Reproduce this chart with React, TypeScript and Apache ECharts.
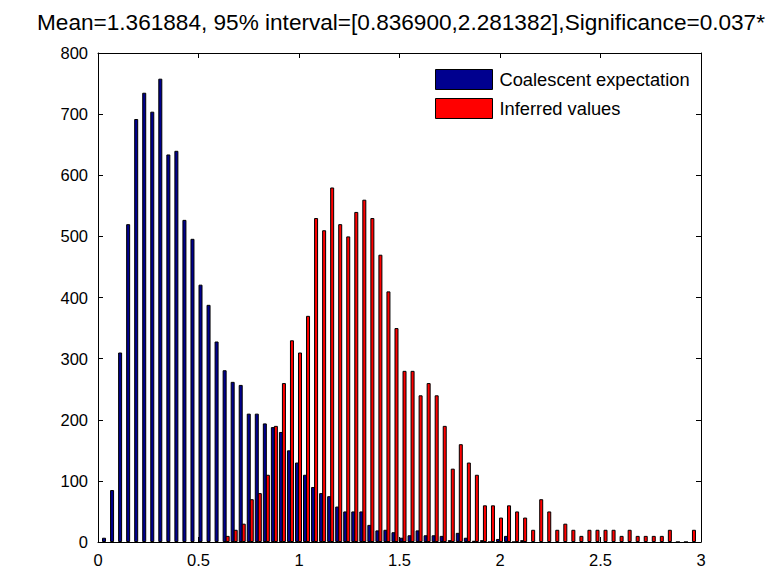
import React, { useEffect, useRef } from "react";
import * as echarts from "echarts";

const TITLE = "Mean=1.361884, 95% interval=[0.836900,2.281382],Significance=0.037*";
const SERIES_NAMES = ["Coalescent expectation", "Inferred values"];

const xTicks = [0, 0.5, 1, 1.5, 2, 2.5, 3];
const yTicks = [0, 100, 200, 300, 400, 500, 600, 700, 800];

// bin centres of the "Coalescent expectation" histogram
const blueCenters = [
  0.03, 0.07, 0.11, 0.15, 0.19, 0.23, 0.27, 0.31, 0.35, 0.39,
  0.43, 0.47, 0.51, 0.55, 0.59, 0.63, 0.67, 0.71, 0.75, 0.79,
  0.83, 0.87, 0.91, 0.95, 0.99, 1.03, 1.07, 1.11, 1.15, 1.19,
  1.23, 1.27, 1.31, 1.35, 1.39, 1.43, 1.47, 1.51, 1.55, 1.59,
  1.63, 1.67, 1.71, 1.75, 1.79, 1.83, 1.87, 1.91, 1.95, 1.99,
  2.03, 2.07, 2.11,
];
const blueCounts = [
  7, 85, 310, 520, 692, 735, 704, 758, 634, 640,
  527, 496, 421, 388, 328, 281, 262, 257, 210, 210,
  194, 188, 180, 150, 130, 110, 90, 80, 75, 58,
  50, 50, 50, 28, 19, 20, 16, 7, 11, 19,
  11, 11, 10, 3, 15, 7, 2, 3, 0, 5,
  10, 0, 3,
];

// bin centres of the "Inferred values" histogram
const redCenters = [
  0.645, 0.685, 0.725, 0.765, 0.805, 0.845, 0.885, 0.925, 0.965, 1.005,
  1.045, 1.085, 1.125, 1.165, 1.205, 1.245, 1.285, 1.325, 1.365, 1.405,
  1.445, 1.485, 1.525, 1.565, 1.605, 1.645, 1.685, 1.725, 1.765, 1.805,
  1.845, 1.885, 1.925, 1.965, 2.005, 2.045, 2.085, 2.125, 2.165, 2.205,
  2.245, 2.285, 2.325, 2.365, 2.405, 2.445, 2.485, 2.525, 2.565, 2.605,
  2.645, 2.685, 2.725, 2.765, 2.805, 2.845, 2.885, 2.925, 2.965,
];
const redCounts = [
  10, 20, 30, 70, 80, 110, 190, 260, 330, 310,
  370, 530, 510, 580, 520, 500, 540, 560, 530, 470,
  410, 350, 280, 280, 240, 260, 240, 190, 120, 160,
  130, 110, 60, 60, 40, 60, 50, 40, 20, 70,
  50, 20, 30, 20, 10, 20, 20, 20, 20, 10,
  20, 10, 10, 10, 10, 20, 0, 0, 20,
];

const FONT = '"Liberation Sans", Arial, Helvetica, sans-serif';

export default function App() {
  const ref = useRef<HTMLDivElement>(null);

  useEffect(() => {
    if (!ref.current) return;
    const chart = echarts.init(ref.current, undefined, { renderer: "svg" });

    const axisCommon = {
      type: "value" as const,
      axisLine: { show: true, onZero: false, lineStyle: { color: "#000", width: 1 } },
      axisTick: { show: true, inside: true, length: 5, lineStyle: { color: "#000", width: 1 } },
      splitLine: { show: false },
    };

    const option = {
      animation: false,
      backgroundColor: "#fff",
      grid: { left: 98, top: 53, right: 71, bottom: 29, containLabel: false },
      graphic: [
        {
          type: "text",
          x: 401,
          y: 22,
          style: {
            text: TITLE,
            fill: "#000",
            fontSize: 22.6,
            fontFamily: FONT,
            align: "center",
            verticalAlign: "middle",
          },
        },
      ],
      legend: {
        orient: "vertical",
        left: 435,
        top: 69,
        padding: 0,
        itemWidth: 57,
        itemHeight: 20,
        itemGap: 8,
        icon: "rect",
        data: SERIES_NAMES,
        itemStyle: { borderColor: "#000", borderWidth: 1 },
        textStyle: { color: "#000", fontSize: 18.3, fontFamily: FONT, padding: [0, 0, 0, 2] },
      },
      xAxis: [
        {
          ...axisCommon,
          position: "bottom",
          min: xTicks[0],
          max: xTicks[xTicks.length - 1],
          interval: 0.5,
          axisLabel: {
            show: true,
            color: "#000",
            fontSize: 16.5,
            fontFamily: FONT,
            margin: 9,
            formatter: (v: number) => String(v),
          },
        },
        {
          ...axisCommon,
          position: "top",
          min: xTicks[0],
          max: xTicks[xTicks.length - 1],
          interval: 0.5,
          axisLabel: { show: false },
        },
      ],
      yAxis: [
        {
          ...axisCommon,
          position: "left",
          min: yTicks[0],
          max: yTicks[yTicks.length - 1],
          interval: 100,
          axisLabel: {
            show: true,
            color: "#000",
            fontSize: 16.5,
            fontFamily: FONT,
            margin: 10,
          },
        },
        {
          ...axisCommon,
          position: "right",
          min: yTicks[0],
          max: yTicks[yTicks.length - 1],
          interval: 100,
          axisLabel: { show: false },
        },
      ],
      series: [
        {
          name: SERIES_NAMES[0],
          type: "bar",
          xAxisIndex: 0,
          yAxisIndex: 0,
          barWidth: 4,
          itemStyle: { color: "#00008F", borderColor: "#000", borderWidth: 1 },
          data: blueCenters.map((x, i) => [x, blueCounts[i]]),
        },
        {
          name: SERIES_NAMES[1],
          type: "bar",
          xAxisIndex: 1,
          yAxisIndex: 0,
          barWidth: 4,
          itemStyle: { color: "#FF0000", borderColor: "#000", borderWidth: 1 },
          data: redCenters.map((x, i) => [x, redCounts[i]]),
        },
      ],
    };

    chart.setOption(option as any);
    return () => chart.dispose();
  }, []);

  return (
    <div
      ref={ref}
      style={{ position: "absolute", left: 0, top: 0, width: 772, height: 571 }}
    />
  );
}
